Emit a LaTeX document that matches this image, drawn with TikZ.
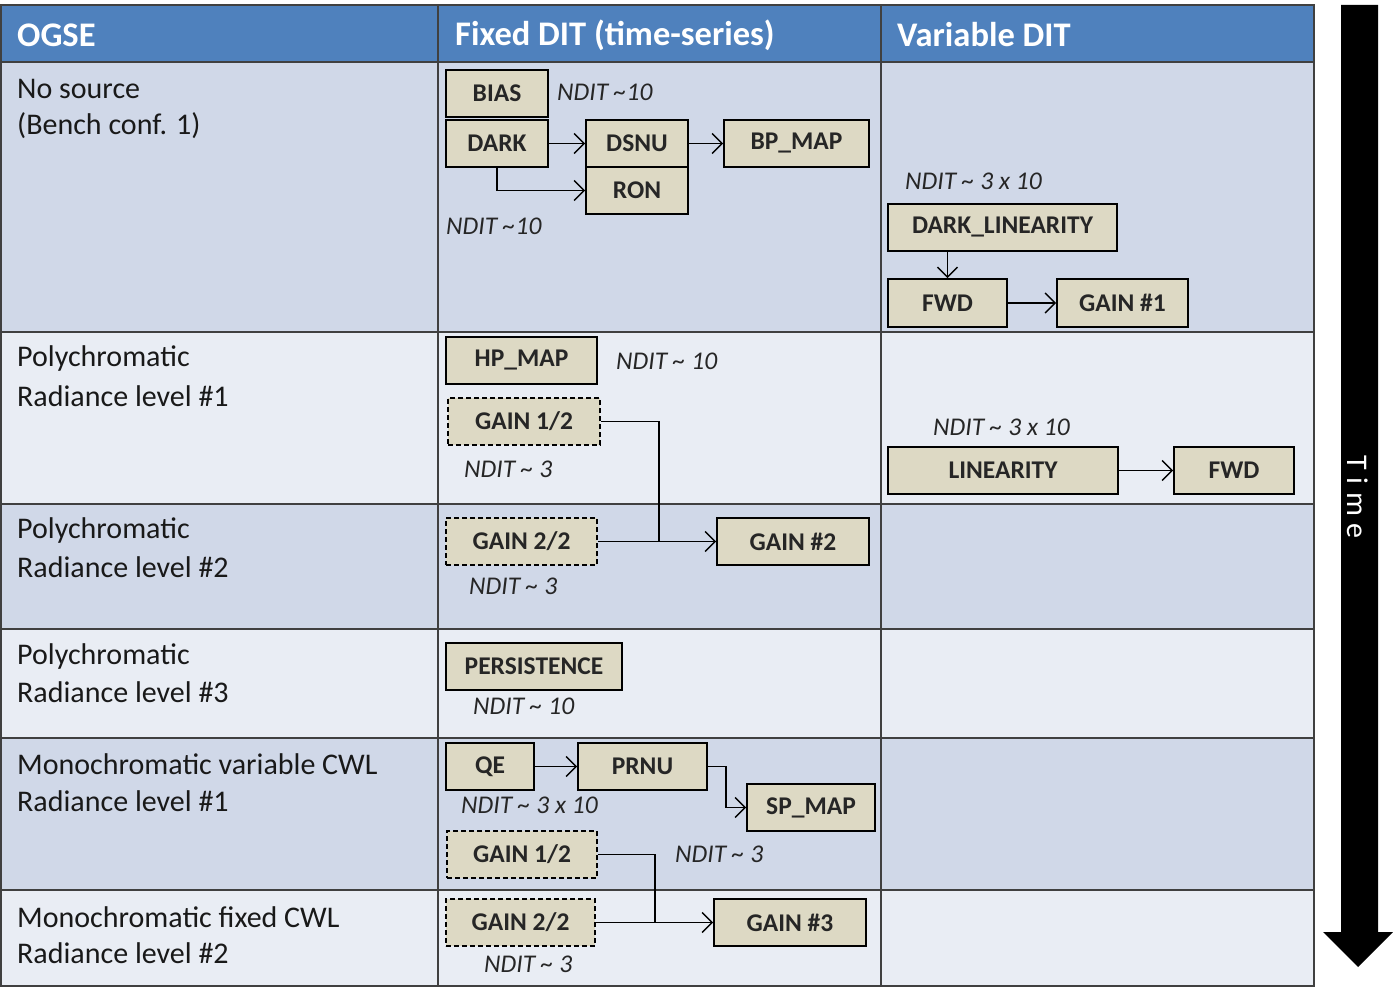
\documentclass[tikz,border=0pt]{standalone}
\usepackage{fontspec}
\setmainfont{Carlito}
\newfontfamily\timefont[LetterSpace=25]{Carlito}
\usetikzlibrary{arrows.meta}
\definecolor{hdr}{HTML}{4F81BD}
\definecolor{rowd}{HTML}{D0D8E8}
\definecolor{rowl}{HTML}{E9EDF4}
\definecolor{tanfill}{HTML}{DDD9C4}
\definecolor{gridc}{HTML}{404040}
\begin{document}
\begin{tikzpicture}[x=1pt,y=-1pt,
  box/.style={draw=black, fill=tanfill, line width=1.6pt, inner sep=0pt, font=\fontsize{25.5}{30}\selectfont\bfseries, text=black!85},
  dbox/.style={box, dash pattern=on 5pt off 3pt},
  ndit/.style={anchor=west, inner sep=0pt, font=\fontsize{25.5}{30}\selectfont\itshape, text=black!85},
  lbl/.style={anchor=west, inner sep=0pt, font=\fontsize{30}{36}\selectfont, text=black!90},
  hd/.style={anchor=west, inner sep=0pt, text=white, font=\fontsize{34.5}{40}\selectfont\bfseries},
  arr/.style={line width=1.5pt, -{Straight Barb[length=10pt,width=20pt,line width=1.5pt]}},
  con/.style={line width=1.5pt},
  gridline/.style={draw=gridc, line width=2pt}]
\useasboundingbox (0,0) rectangle (1393,987);
% backgrounds
\fill[hdr] (1,5) rectangle (1314,62);
\fill[rowd] (1,62) rectangle (1314,332);
\fill[rowl] (1,332) rectangle (1314,504);
\fill[rowd] (1,504) rectangle (1314,629);
\fill[rowl] (1,629) rectangle (1314,738);
\fill[rowd] (1,738) rectangle (1314,890);
\fill[rowl] (1,890) rectangle (1314,986);
% grid
\foreach \yy in {62,332,504,629,738,890} \draw[gridline] (1,\yy) -- (1314,\yy);
\draw[gridline] (438,5) -- (438,986);
\draw[gridline] (881,5) -- (881,986);
\draw[gridline] (1,5) rectangle (1314,986);
% headers
\node[hd] (h1) at (17,35) {OGSE};
\node[hd] (h2) at (455,35) {Fixed DIT (time-series)};
\node[hd] (h3) at (897,35) {Variable DIT};
% left column
\node[lbl] (l1a) at (17,89) {No source};
\node[lbl] (l1b) at (17,126) {(Bench conf. 1)};
\node[lbl] (l2a) at (17,359) {Polychromatic};
\node[lbl] (l2b) at (17,396) {Radiance level \#1};
\node[lbl] (l3a) at (17,530) {Polychromatic};
\node[lbl] (l3b) at (17,567) {Radiance level \#2};
\node[lbl] (l4a) at (17,656) {Polychromatic};
\node[lbl] (l4b) at (17,692) {Radiance level \#3};
\node[lbl] (l5a) at (17,764) {Monochromatic variable CWL};
\node[lbl] (l5b) at (17,801) {Radiance level \#1};
\node[lbl] (l6a) at (17,917) {Monochromatic fixed CWL};
\node[lbl] (l6b) at (17,953) {Radiance level \#2};
% row 1 fixed
\node[box, minimum width=102pt, minimum height=47pt] (bias) at (497,93.5) {BIAS};
\node[box, minimum width=102pt, minimum height=47pt] (dark) at (497,143.5) {DARK};
\node[box, minimum width=102pt, minimum height=47pt] (dsnu) at (637,143.5) {DSNU};
\node[box, minimum width=102pt, minimum height=47pt] (ron) at (637,190.5) {RON};
\node[box, minimum width=145pt, minimum height=47pt] (bpmap) at (796.5,143.5) {BP\_MAP};
\node[ndit] (n1) at (557,92) {NDIT \textasciitilde10};
\node[ndit] (n2) at (446,226) {NDIT \textasciitilde10};
\draw[arr] (dark.east) -- (dsnu.west);
\draw[arr] (dsnu.east) -- (bpmap.west);
\draw[arr] (dark.south) |- (ron.west);
% row 1 variable
\node[ndit] (n3) at (905,181) {NDIT \textasciitilde{} 3 x 10};
\node[box, minimum width=229pt, minimum height=47pt] (dl) at (1002.5,227.5) {DARK\_LINEARITY};
\node[box, minimum width=119pt, minimum height=48pt] (fwda) at (947.5,303) {FWD};
\node[box, minimum width=131pt, minimum height=48pt] (gain1) at (1122.5,303) {GAIN \#1};
\draw[arr] (dl.south -| fwda.north) -- (fwda.north);
\draw[arr] (fwda.east) -- (gain1.west);
% row 2 fixed
\node[box, minimum width=151pt, minimum height=47pt] (hpmap) at (521.5,360.5) {HP\_MAP};
\node[ndit] (n4) at (616,361) {NDIT \textasciitilde{} 10};
\node[dbox, minimum width=152pt, minimum height=47pt] (g12a) at (524,421.5) {GAIN 1/2};
\node[ndit] (n5) at (464,469) {NDIT \textasciitilde{} 3};
% row 2 variable
\node[ndit] (n6) at (933,427) {NDIT \textasciitilde{} 3 x 10};
\node[box, minimum width=230pt, minimum height=47pt] (lin) at (1003,470.5) {LINEARITY};
\node[box, minimum width=120pt, minimum height=47pt] (fwdb) at (1234,470.5) {FWD};
\draw[arr] (lin.east) -- (fwdb.west);
% row 3
\node[dbox, minimum width=151pt, minimum height=47pt] (g22a) at (521.5,541.5) {GAIN 2/2};
\node[box, minimum width=152pt, minimum height=47pt] (gain2) at (793,541.5) {GAIN \#2};
\node[ndit] (n7) at (469,586) {NDIT \textasciitilde{} 3};
\coordinate (j1) at (659,541.5);
\draw[con] (g12a.east) -| (j1);
\draw[arr] (g22a.east) -- (gain2.west);
% row 4
\node[box, minimum width=176pt, minimum height=47pt] (pers) at (534,666.5) {PERSISTENCE};
\node[ndit] (n8) at (473,706) {NDIT \textasciitilde{} 10};
% row 5
\node[box, minimum width=88pt, minimum height=47pt] (qe) at (490,766.5) {QE};
\node[box, minimum width=129pt, minimum height=47pt] (prnu) at (642.5,766.5) {PRNU};
\node[box, minimum width=128pt, minimum height=47pt] (spmap) at (811,807.5) {SP\_MAP};
\node[ndit] (n9) at (461,805) {NDIT \textasciitilde{} 3 x 10};
\draw[arr] (qe.east) -- (prnu.west);
\coordinate (k1) at (726,766.5);
\draw[arr] (prnu.east) -- (k1) |- (spmap.west);
\node[dbox, minimum width=150pt, minimum height=47pt] (g12b) at (522,854.5) {GAIN 1/2};
\node[ndit] (n10) at (675,854) {NDIT \textasciitilde{} 3};
% row 6
\node[dbox, minimum width=149pt, minimum height=47pt] (g22b) at (520.5,922.5) {GAIN 2/2};
\node[box, minimum width=152pt, minimum height=47pt] (gain3) at (790,922.5) {GAIN \#3};
\node[ndit] (n11) at (484,964) {NDIT \textasciitilde{} 3};
\coordinate (j2) at (655,922.5);
\draw[con] (g12b.east) -| (j2);
\draw[arr] (g22b.east) -- (gain3.west);
% time arrow
\fill[black] (1341,5) -- (1378,5) -- (1378,932) -- (1393,932) -- (1358,967) -- (1323,932) -- (1341,932) -- cycle;
\node[rotate=-90, text=white, inner sep=0pt, font=\fontsize{30}{36}\timefont] (time) at (1358,497) {Time};
\end{tikzpicture}
\end{document}
